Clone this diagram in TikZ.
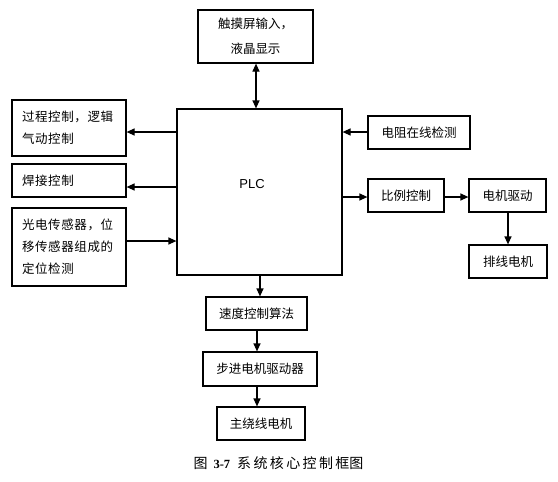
\documentclass[tikz,border=0pt]{standalone}
\usepackage{fontspec}
\newfontfamily\cjk{Noto Sans CJK SC}
\newfontfamily\cjksp[LetterSpace=5]{Noto Sans CJK SC}
\newfontfamily\cjkcap[LetterSpace=17]{Noto Sans CJK SC}
\newfontfamily\lsans{Liberation Sans}
\newfontfamily\lserif{Liberation Serif}
\usetikzlibrary{arrows.meta}
\begin{document}
\begin{tikzpicture}[x=1pt,y=-1pt,
  box/.style={draw, line width=1.2pt, inner sep=0pt, minimum height=33pt, align=center,
    font=\cjk\fontsize{12.5}{22}\selectfont},
  lbox/.style={box, text width=94pt, inner xsep=10pt, align=left,
    font=\cjksp\fontsize{12.5}{22}\selectfont},
  arr/.style={draw, line width=1.2pt, -{Triangle[length=8pt,width=7pt]}},
  darr/.style={draw, line width=1.2pt, {Triangle[length=8pt,width=7pt]}-{Triangle[length=8pt,width=7pt]}}]
\useasboundingbox (0,0) rectangle (558,482);
\fill[white] (0,0) rectangle (558,482);
% top
\node[box, minimum width=115pt, minimum height=53pt, font=\cjk\fontsize{12.5}{25}\selectfont] (top) at (255.5,36.5) {触摸屏输入，\\液晶显示};
% PLC
\node[draw, line width=1.2pt, minimum width=165pt, minimum height=166pt, inner sep=0pt] (plc) at (259.5,192) {};
\node[font=\lsans\fontsize{13}{15}\selectfont, inner sep=0pt] (plct) at (252,184) {PLC};
% left
\node[lbox, minimum height=56pt] (b1) at (69,128) {过程控制，逻辑\\气动控制};
\node[lbox, minimum height=33pt] (b2) at (69,180.5) {焊接控制};
\node[lbox, minimum height=78pt] (b3) at (69,247) {光电传感器，位\\移传感器组成的\\定位检测};
% right
\node[box, minimum width=102pt] (r1) at (419,132.5) {电阻在线检测};
\node[box, minimum width=76pt] (r2) at (406,195.5) {比例控制};
\node[box, minimum width=77pt] (r3) at (507.5,195.5) {电机驱动};
\node[box, minimum width=78pt] (r4) at (508,261.5) {排线电机};
% bottom
\node[box, minimum width=101pt] (s1) at (256.5,313.5) {速度控制算法};
\node[box, minimum width=114pt, minimum height=34pt] (s2) at (260,369) {步进电机驱动器};
\node[box, minimum width=88pt] (s3) at (261,423.5) {主绕线电机};
% caption
\node[font=\cjk\fontsize{14}{16}\selectfont, inner sep=0pt] (cap) at (278.5,463)
  {图\hspace{6pt}{\lserif\bfseries\fontsize{12.5}{14}\selectfont 3-7}\hspace{7pt}{\cjkcap 系统核心控制框}图};
% connectors
\draw[darr] (top.south -| 256,0) -- (plc.north -| 256,0);
\draw[arr] (plc.west |- 0,132) -- (b1.east |- 0,132);
\draw[arr] (plc.west |- 0,187) -- (b2.east |- 0,187);
\draw[arr] (b3.east |- 0,241) -- (plc.west |- 0,241);
\draw[arr] (r1.west |- 0,132) -- (plc.east |- 0,132);
\draw[arr] (plc.east |- 0,197) -- (r2.west |- 0,197);
\draw[arr] (r2.east |- 0,197) -- (r3.west |- 0,197);
\draw[arr] (r3.south -| 508,0) -- (r4.north -| 508,0);
\draw[arr] (plc.south -| 260,0) -- (s1.north -| 260,0);
\draw[arr] (s1.south -| 257,0) -- (s2.north -| 257,0);
\draw[arr] (s2.south -| 257,0) -- (s3.north -| 257,0);
\end{tikzpicture}
\end{document}
